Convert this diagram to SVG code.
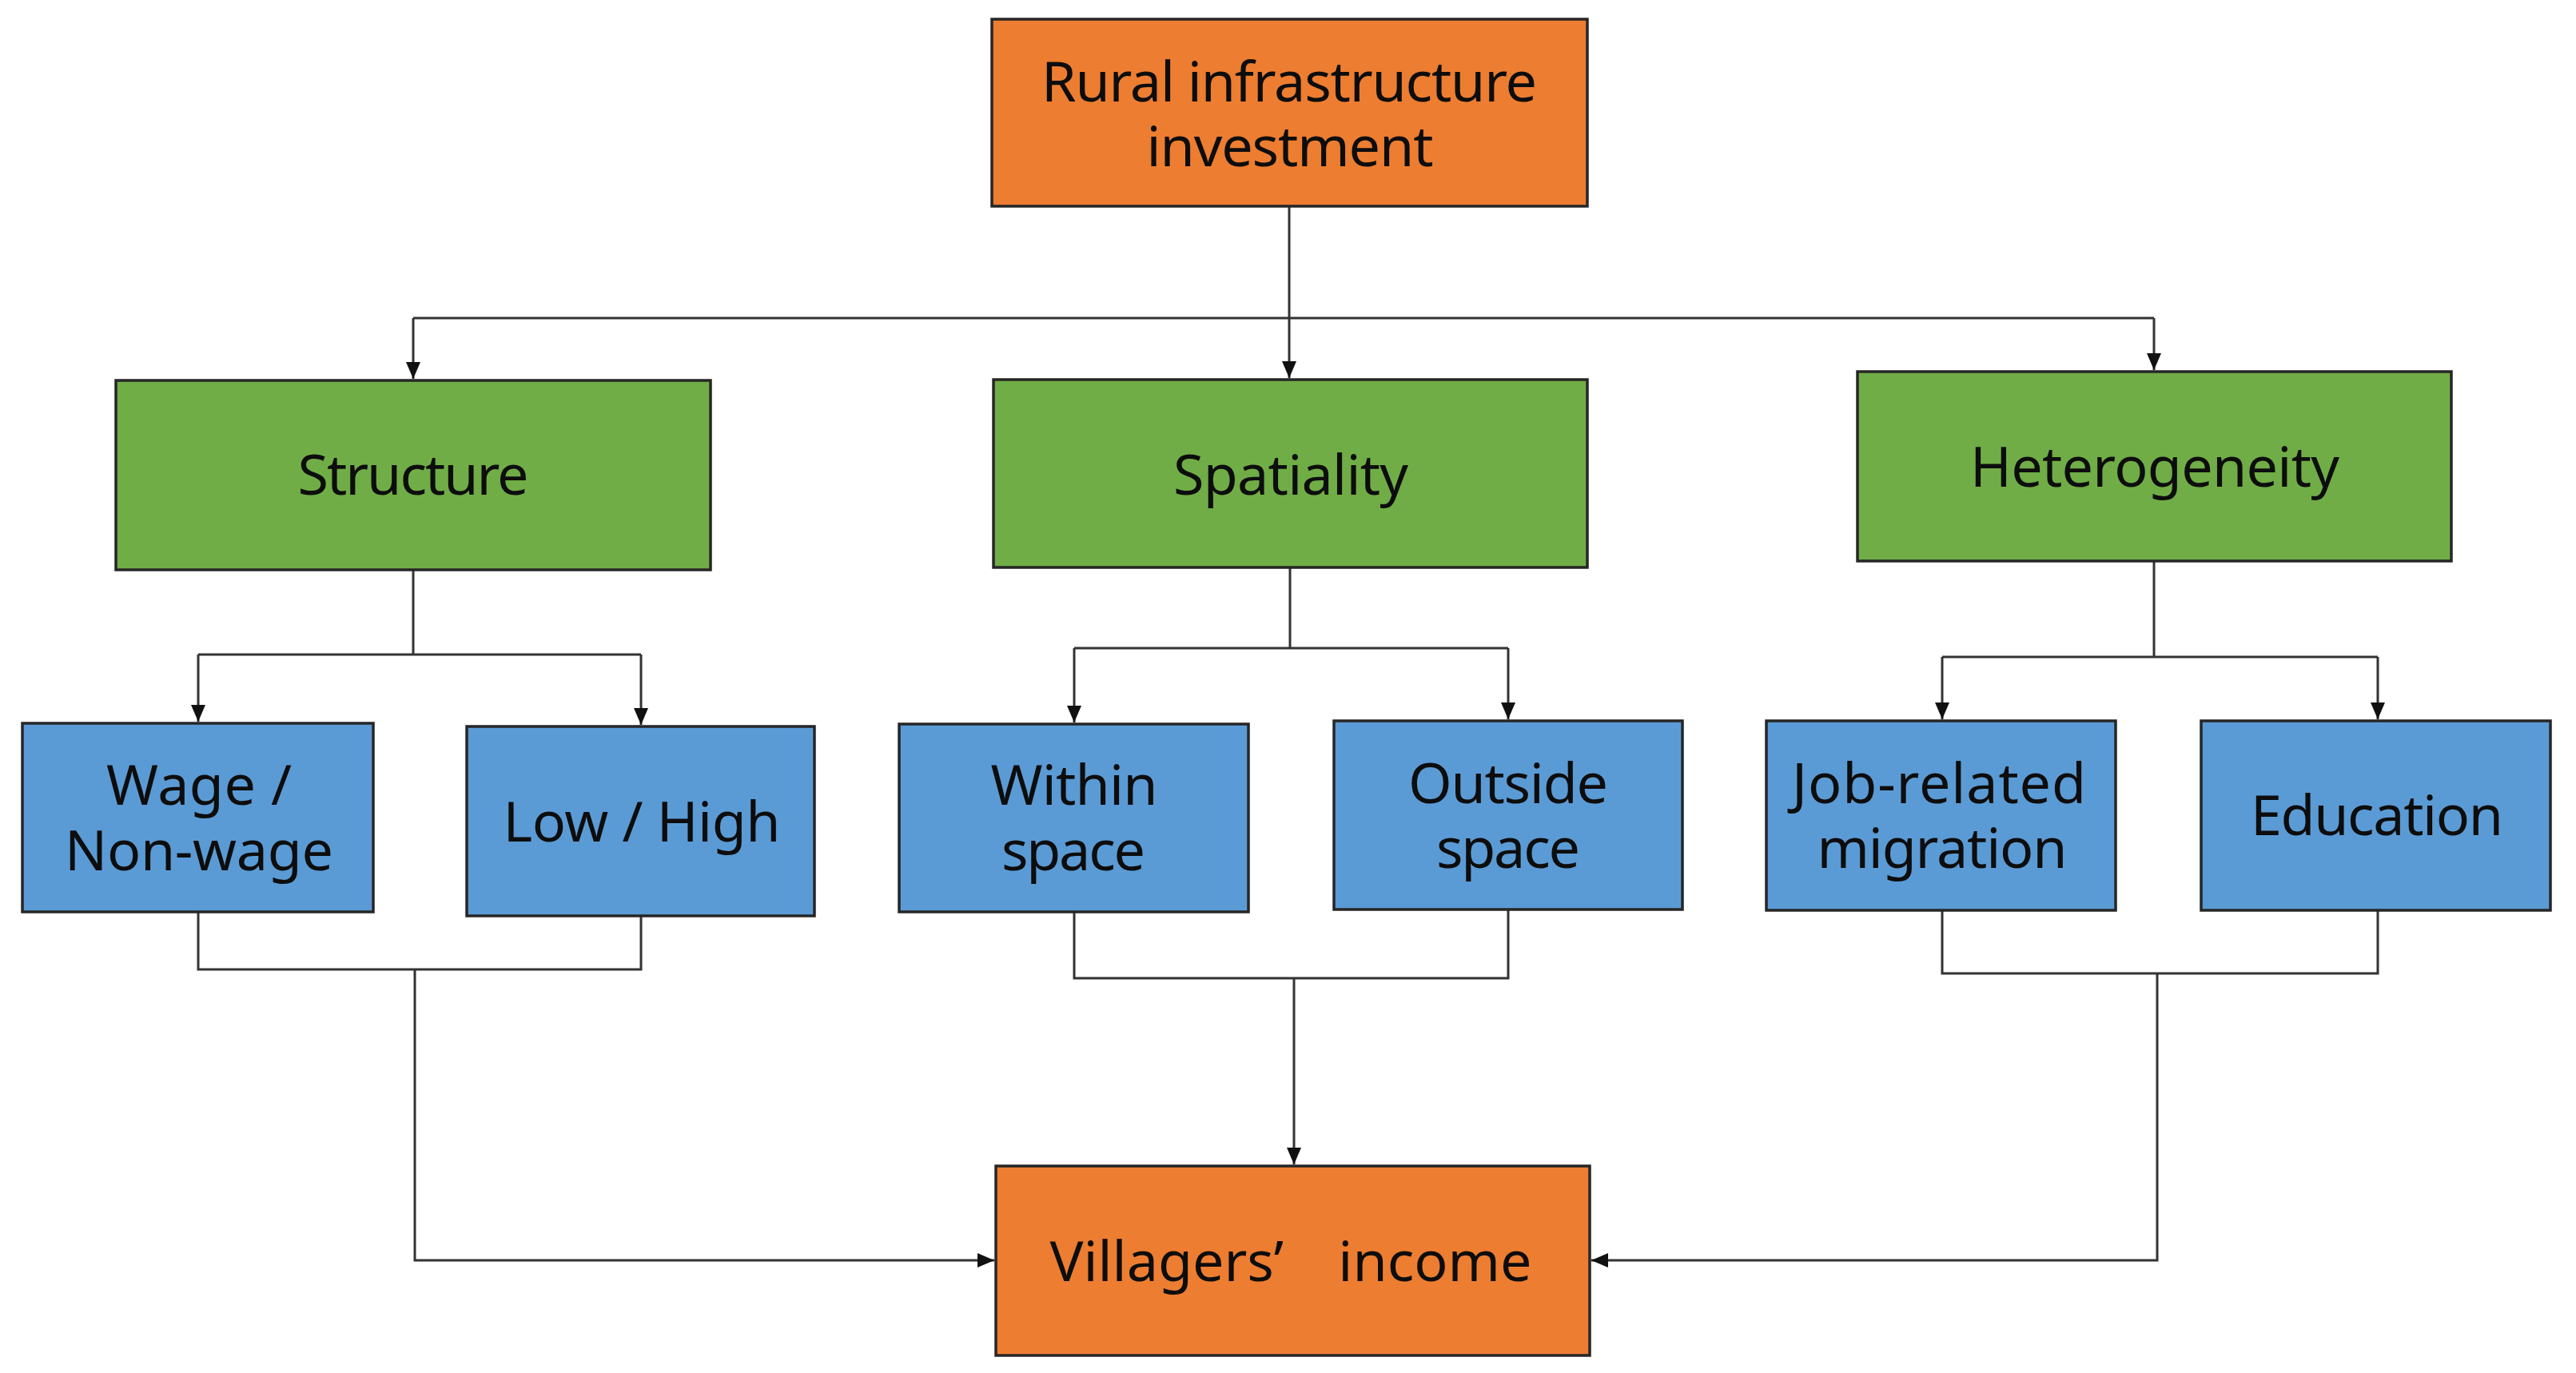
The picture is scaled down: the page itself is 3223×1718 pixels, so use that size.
<svg xmlns="http://www.w3.org/2000/svg" width="3223" height="1718" viewBox="0 0 3223 1718">
<defs>
<style>
.box{stroke:#262626;stroke-width:3.5}
.or{fill:#ED7D31}
.gr{fill:#70AD47}
.bl{fill:#5B9BD5}
.t{font-family:"Noto Sans","Open Sans","DejaVu Sans",sans-serif;font-size:70px;fill:#0d0d0d;text-anchor:middle}
.c{fill:none;stroke:#333333;stroke-width:3}
</style>
<marker id="ah" markerUnits="userSpaceOnUse" markerWidth="22" markerHeight="20" refX="21" refY="9" orient="auto">
<path d="M0,0 L21,9 L0,18 z" fill="#111"/>
</marker>
</defs>
<rect width="3223" height="1718" fill="#ffffff"/>

<g id="connectors">
<path class="c" d="M1613,258 V473" marker-end="url(#ah)"/>
<path class="c" d="M517,398 H2695"/>
<path class="c" d="M517,398 V474" marker-end="url(#ah)"/>
<path class="c" d="M2695,398 V463" marker-end="url(#ah)"/>

<path class="c" d="M517,713 V819"/>
<path class="c" d="M248,819 H802"/>
<path class="c" d="M248,819 V903" marker-end="url(#ah)"/>
<path class="c" d="M802,819 V907" marker-end="url(#ah)"/>

<path class="c" d="M1614,710 V811"/>
<path class="c" d="M1344,811 H1887"/>
<path class="c" d="M1344,811 V904" marker-end="url(#ah)"/>
<path class="c" d="M1887,811 V900" marker-end="url(#ah)"/>

<path class="c" d="M2695,702 V822"/>
<path class="c" d="M2430,822 H2975"/>
<path class="c" d="M2430,822 V900" marker-end="url(#ah)"/>
<path class="c" d="M2975,822 V900" marker-end="url(#ah)"/>

<path class="c" d="M248,1141 V1213 H802 V1146"/>
<path class="c" d="M519,1213 V1577 H1244" marker-end="url(#ah)"/>

<path class="c" d="M1344,1141 V1224 H1887 V1138"/>
<path class="c" d="M1619,1224 V1457" marker-end="url(#ah)"/>

<path class="c" d="M2430,1139 V1218 H2975 V1139"/>
<path class="c" d="M2699,1218 V1577 H1991" marker-end="url(#ah)"/>
</g>

<g id="n-rural">
<rect class="box or" x="1241" y="24" width="745" height="234"/>
<text class="t"><tspan x="1613" y="127" textLength="620">Rural infrastructure</tspan><tspan x="1614" y="208" textLength="359">investment</tspan></text>
</g>

<g id="n-structure">
<rect class="box gr" x="145" y="476" width="744" height="237"/>
<text class="t" x="517" y="619" textLength="289">Structure</text>
</g>

<g id="n-spatiality">
<rect class="box gr" x="1243" y="475" width="743" height="235"/>
<text class="t" x="1615" y="619" textLength="294">Spatiality</text>
</g>

<g id="n-heterogeneity">
<rect class="box gr" x="2324" y="465" width="743" height="237"/>
<text class="t" x="2696" y="609" textLength="462">Heterogeneity</text>
</g>

<g id="n-wage">
<rect class="box bl" x="28" y="905" width="439" height="236"/>
<text class="t"><tspan x="249" y="1007" textLength="232">Wage /</tspan><tspan x="249" y="1089" textLength="336">Non-wage</tspan></text>
</g>

<g id="n-lowhigh">
<rect class="box bl" x="584" y="909" width="435" height="237"/>
<text class="t" x="803" y="1053" textLength="347">Low / High</text>
</g>

<g id="n-within">
<rect class="box bl" x="1125" y="906" width="437" height="235"/>
<text class="t"><tspan x="1344" y="1007" textLength="209">Within</tspan><tspan x="1343" y="1089" textLength="180">space</tspan></text>
</g>

<g id="n-outside">
<rect class="box bl" x="1669" y="902" width="436" height="236"/>
<text class="t"><tspan x="1887" y="1005" textLength="250">Outside</tspan><tspan x="1887" y="1086" textLength="180">space</tspan></text>
</g>

<g id="n-job">
<rect class="box bl" x="2210" y="902" width="437" height="237"/>
<text class="t"><tspan x="2426" y="1005" textLength="368">Job-related</tspan><tspan x="2430" y="1086" textLength="313">migration</tspan></text>
</g>

<g id="n-education">
<rect class="box bl" x="2754" y="902" width="437" height="237"/>
<text class="t" x="2974" y="1045" textLength="316">Education</text>
</g>

<g id="n-income">
<rect class="box or" x="1246" y="1459" width="743" height="237"/>
<text class="t" x="1615" y="1603">Villagers’ <tspan dx="50">income</tspan></text>
</g>
</svg>
